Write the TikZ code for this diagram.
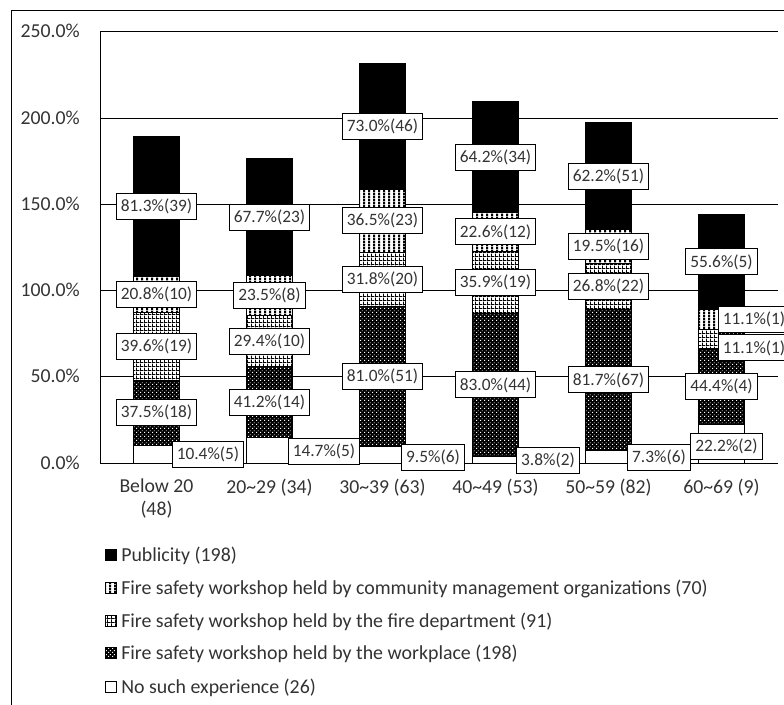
\documentclass[tikz,border=0pt]{standalone}
\usepackage{fontspec}
\setmainfont{Carlito}
\usetikzlibrary{patterns}

% fill patterns for the stacked segments
\pgfdeclarepatternformonly{vstripes}{\pgfpointorigin}{\pgfqpoint{3.4pt}{2pt}}{\pgfqpoint{3.4pt}{2pt}}{%
  \pgfpathrectangle{\pgfpointorigin}{\pgfqpoint{1.7pt}{2pt}}\pgfusepath{fill}}
\pgfdeclarepatternformonly{smallgrid}{\pgfpointorigin}{\pgfqpoint{3.1pt}{3.1pt}}{\pgfqpoint{3.1pt}{3.1pt}}{%
  \pgfpathrectangle{\pgfpointorigin}{\pgfqpoint{3.1pt}{0.8pt}}%
  \pgfpathrectangle{\pgfpointorigin}{\pgfqpoint{0.8pt}{3.1pt}}\pgfusepath{fill}}
\pgfdeclarepatternformonly{wdots}{\pgfpointorigin}{\pgfqpoint{3pt}{3pt}}{\pgfqpoint{3pt}{3pt}}{%
  \pgfpathrectangle{\pgfqpoint{0.2pt}{0.2pt}}{\pgfqpoint{0.8pt}{0.8pt}}%
  \pgfpathrectangle{\pgfqpoint{1.7pt}{1.7pt}}{\pgfqpoint{0.8pt}{0.8pt}}\pgfusepath{fill}}

\tikzset{
  seg/.style={draw=black, line width=0.75pt},
  segpub/.style={seg, fill=black},
  segcomm/.style={seg, preaction={fill=white}, pattern=vstripes, pattern color=black},
  segfire/.style={seg, preaction={fill=white}, pattern=smallgrid, pattern color=black},
  segwork/.style={seg, preaction={fill=black}, pattern=wdots, pattern color=white},
  segnone/.style={seg, fill=white},
  vlab/.style={draw=black, fill=white, line width=0.75pt, text=black!80,
    font=\fontsize{13}{14}\selectfont, inner xsep=3.4pt, inner ysep=0pt,
    minimum height=19.5pt},
  ticklab/.style={anchor=base east, text=black!80, font=\fontsize{14.8}{17}\selectfont, inner sep=0pt},
  catlab/.style={anchor=north, align=center, text=black!80,
    font=\fontsize{14.8}{17.25}\selectfont, inner sep=0pt},
  leglab/.style={anchor=base west, text=black!80, font=\fontsize{14.9}{17}\selectfont, inner sep=0pt},
  grid line/.style={draw=black, line width=0.75pt}
}

% one stacked bar: #1 index, #2..#6 shares (none, workplace, fire dept., community, publicity)
\newcommand\agebar[6]{%
  \pgfmathsetmacro\cx{100+113*(#1-0.5)}%
  \pgfmathsetmacro\ya{463-1.724*#2}%
  \pgfmathsetmacro\yb{\ya-1.724*#3}%
  \pgfmathsetmacro\yc{\yb-1.724*#4}%
  \pgfmathsetmacro\yd{\yc-1.724*#5}%
  \pgfmathsetmacro\ye{\yd-1.724*#6}%
  \path[segnone] (\cx-23,463) rectangle (\cx+23,\ya);
  \path[segwork] (\cx-23,\ya) rectangle (\cx+23,\yb);
  \path[segfire] (\cx-23,\yb) rectangle (\cx+23,\yc);
  \path[segcomm] (\cx-23,\yc) rectangle (\cx+23,\yd);
  \path[segpub]  (\cx-23,\yd) rectangle (\cx+23,\ye);
  \coordinate (w#1) at (\cx,{(\ya+\yb)/2});
  \coordinate (f#1) at (\cx,{(\yb+\yc)/2});
  \coordinate (c#1) at (\cx,{(\yc+\yd)/2});
  \coordinate (p#1) at (\cx,{(\yd+\ye)/2});
}

\begin{document}
\begin{tikzpicture}[x=0.75pt,y=-0.75pt]
\useasboundingbox (0,0) rectangle (784,705);
\clip (0,0) rectangle (784,705);

% outer frame
\draw[line width=0.75pt] (11,720) -- (11,11) -- (800,11);

% value axis, gridlines and tick labels
\foreach \v/\t in {0/0.0,50/50.0,100/100.0,150/150.0,200/200.0,250/250.0}{
  \draw[grid line] (100,{463-1.724*\v}) -- (778,{463-1.724*\v});
  \node[ticklab] (tick\v) at (80,{469-1.724*\v}) {\t\%};
}
\draw[grid line] (100,32) -- (100,463);

% stacked bars
\agebar{1}{10.4}{37.5}{39.6}{20.8}{81.3}
\agebar{2}{14.7}{41.2}{29.4}{23.5}{67.7}
\agebar{3}{9.5}{81.0}{31.8}{36.5}{73.0}
\agebar{4}{3.8}{83.0}{35.9}{22.6}{64.2}
\agebar{5}{7.3}{81.7}{26.8}{19.5}{62.2}
\agebar{6}{22.2}{44.4}{11.1}{11.1}{55.6}

% data labels
\node[vlab] (Lp1) at (p1) {81.3\%(39)};
\node[vlab] (Lc1) at (c1) {20.8\%(10)};
\node[vlab] (Lf1) at (f1) {39.6\%(19)};
\node[vlab] (Lw1) at (w1) {37.5\%(18)};
\node[vlab] (Ln1) at (208,454.5) {10.4\%(5)};

\node[vlab] (Lp2) at (p2) {67.7\%(23)};
\node[vlab] (Lc2) at (c2) {23.5\%(8)};
\node[vlab] (Lf2) at (f2) {29.4\%(10)};
\node[vlab] (Lw2) at (w2) {41.2\%(14)};
\node[vlab] (Ln2) at (324,451.5) {14.7\%(5)};

\node[vlab] (Lp3) at (p3) {73.0\%(46)};
\node[vlab] (Lc3) at (c3) {36.5\%(23)};
\node[vlab] (Lf3) at (f3) {31.8\%(20)};
\node[vlab] (Lw3) at (w3) {81.0\%(51)};
\node[vlab] (Ln3) at (433,457) {9.5\%(6)};

\node[vlab] (Lp4) at (p4) {64.2\%(34)};
\node[vlab] (Lc4) at (c4) {22.6\%(12)};
\node[vlab] (Lf4) at (f4) {35.9\%(19)};
\node[vlab] (Lw4) at (w4) {83.0\%(44)};
\node[vlab] (Ln4) at (548,460) {3.8\%(2)};

\node[vlab] (Lp5) at (p5) {62.2\%(51)};
\node[vlab] (Lc5) at (c5) {19.5\%(16)};
\node[vlab] (Lf5) at (f5) {26.8\%(22)};
\node[vlab] (Lw5) at (w5) {81.7\%(67)};
\node[vlab] (Ln5) at (659,457) {7.3\%(6)};

\node[vlab] (Lp6) at (p6) {55.6\%(5)};
\node[vlab] (Lc6) at (754,319.5) {11.1\%(1)};
\node[vlab] (Lf6) at (754,348) {11.1\%(1)};
\node[vlab] (Lw6) at (w6) {44.4\%(4)};
\node[vlab] (Ln6) at (726.5,446.5) {22.2\%(2)};

% category labels
\node[catlab] (cat1) at (156.5,479) {Below 20\\(48)};
\node[catlab] (cat2) at (269.5,479) {20\textasciitilde 29 (34)};
\node[catlab] (cat3) at (382.5,479) {30\textasciitilde 39 (63)};
\node[catlab] (cat4) at (495.5,479) {40\textasciitilde 49 (53)};
\node[catlab] (cat5) at (608.5,479) {50\textasciitilde 59 (82)};
\node[catlab] (cat6) at (721.5,479) {60\textasciitilde 69 (9)};

% legend
\path[segpub]  (105,549.5) rectangle (116,560.5);
\path[segcomm] (105,582.5) rectangle (116,593.5);
\path[segfire] (105,615.5) rectangle (116,626.5);
\path[segwork] (105,647.5) rectangle (116,658.5);
\path[segnone] (105,681.5) rectangle (116,692.5);
\node[leglab] (leg1) at (121,561) {Publicity (198)};
\node[leglab] (leg2) at (121,594) {Fire safety workshop held by community management organizations (70)};
\node[leglab] (leg3) at (121,627) {Fire safety workshop held by the fire department (91)};
\node[leglab] (leg4) at (121,659) {Fire safety workshop held by the workplace (198)};
\node[leglab] (leg5) at (121,693) {No such experience (26)};
\end{tikzpicture}
\end{document}
